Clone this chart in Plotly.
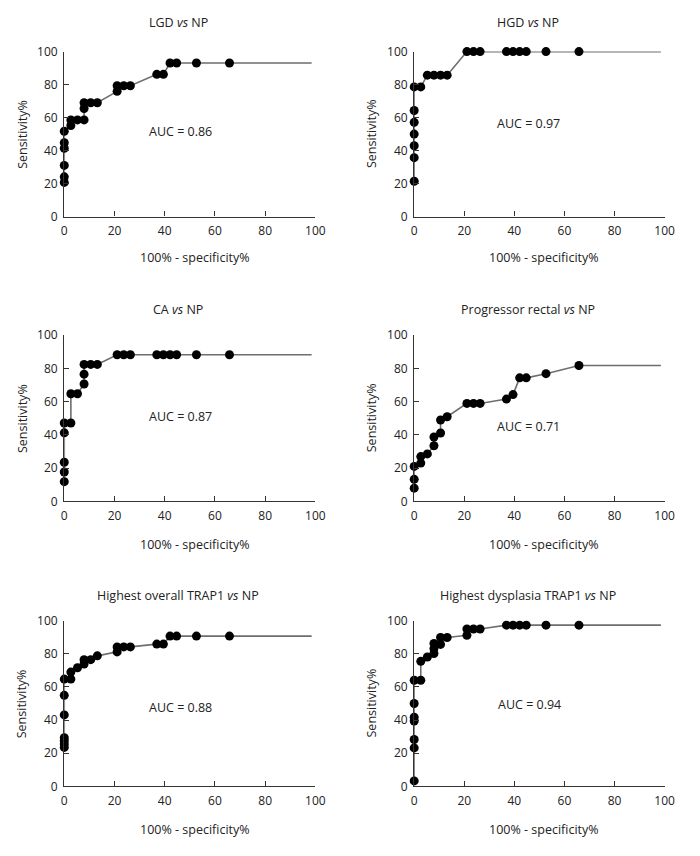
import plotly.graph_objects as go

# ---- data ----
titles = ["LGD <i>vs</i> NP", "HGD <i>vs</i> NP", "CA <i>vs</i> NP",
          "Progressor rectal <i>vs</i> NP", "Highest overall TRAP1 <i>vs</i> NP",
          "Highest dysplasia TRAP1 <i>vs</i> NP"]
auc_labels = ["AUC = 0.86", "AUC = 0.97", "AUC = 0.87", "AUC = 0.71", "AUC = 0.88", "AUC = 0.94"]

lgd_x = [0, 0, 0, 0, 0, 0, 2.63, 2.63, 5.26, 7.89, 7.89, 7.89, 10.53, 13.16, 21.05, 21.05, 23.68, 26.32,
         36.84, 39.47, 42.11, 44.74, 52.63, 65.79]
lgd_y = [20.7, 24.1, 31.0, 41.4, 44.8, 51.7, 55.2, 58.6, 58.6, 58.6, 65.5, 69.0, 69.0, 69.0, 75.9, 79.3, 79.3, 79.3,
         86.2, 86.2, 93.1, 93.1, 93.1, 93.1]

hgd_x = [0, 0, 0, 0, 0, 0, 0, 2.63, 5.26, 7.89, 10.53, 13.16, 21.05, 23.68, 26.32, 36.84, 39.47, 42.11, 44.74,
         52.63, 65.79]
hgd_y = [21.4, 35.7, 42.9, 50.0, 57.1, 64.3, 78.6, 78.6, 85.7, 85.7, 85.7, 85.7, 100, 100, 100, 100, 100, 100, 100,
         100, 100]

ca_x = [0, 0, 0, 0, 0, 2.63, 2.63, 5.26, 7.89, 7.89, 7.89, 10.53, 13.16, 21.05, 23.68, 26.32, 36.84, 39.47, 42.11,
        44.74, 52.63, 65.79]
ca_y = [11.8, 17.6, 23.5, 41.2, 47.1, 47.1, 64.7, 64.7, 70.6, 76.5, 82.4, 82.4, 82.4, 88.2, 88.2, 88.2, 88.2, 88.2,
        88.2, 88.2, 88.2, 88.2]

prog_x = [0, 0, 0, 2.63, 2.63, 5.26, 7.89, 7.89, 10.53, 10.53, 13.16, 21.05, 23.68, 26.32, 36.84, 39.47, 42.11,
          44.74, 52.63, 65.79]
prog_y = [7.9, 13.2, 21.0, 23.0, 26.9, 28.5, 33.4, 38.7, 41.1, 48.9, 50.9, 58.9, 58.9, 58.9, 61.5, 64.2, 74.3,
          74.3, 76.8, 81.7]

overall_x = [0, 0, 0, 0, 0, 0, 0, 2.63, 2.63, 5.26, 7.89, 7.89, 10.53, 13.16, 21.05, 21.05, 23.68, 26.32, 36.84,
             39.47, 42.11, 44.74, 52.63, 65.79]
overall_y = [23.5, 25.5, 27.5, 29.4, 43.1, 54.9, 64.7, 64.7, 68.9, 71.5, 73.8, 76.4, 76.4, 78.7, 81.1, 84.1, 84.1,
             84.1, 85.8, 85.8, 90.6, 90.6, 90.6, 90.6]

dysp_x = [0, 0, 0, 0, 0, 0, 0, 2.63, 2.63, 5.26, 7.89, 7.89, 7.89, 10.53, 10.53, 13.16, 21.05, 21.05, 23.68, 26.32,
          36.84, 39.47, 42.11, 44.74, 52.63, 65.79]
dysp_y = [3.3, 23.2, 28.3, 39.4, 41.7, 50.0, 64.0, 64.0, 75.4, 78.0, 80.1, 83.1, 86.2, 85.6, 89.8, 89.8, 91.1,
          94.9, 94.9, 94.9, 97.2, 97.2, 97.2, 97.2, 97.2, 97.2]

end_x = 98.5  # x where each curve's closing line stops

panels_x = [lgd_x, hgd_x, ca_x, prog_x, overall_x, dysp_x]
panels_y = [lgd_y, hgd_y, ca_y, prog_y, overall_y, dysp_y]
auc_pos = [(46.4, 51.5), (45.7, 56.4), (46.4, 50.9), (45.8, 45.0), (46.4, 47.6), (46.0, 49.6)]

tick_vals = [0, 20, 40, 60, 80, 100]
x_title = "100% - specificity%"
y_title = "Sensitivity%"

# ---- layout geometry (page pixels; the figure sits 8px in from the page corner) ----
OFF = 8
W, H = 684, 840
cols_px = [(62.3, 318.3), (419.0, 674.3)]
rows_px = [(43.3, 211.7), (332.7, 502.3), (624.0, 793.3)]
title_y_px = [14, 307, 598]
xtitle_y_px = [253, 546, 837]
ytitle_x_px = [19, 375]


def px(v):
    return (v - OFF) / W


def py(v):
    return 1 - (v - OFF) / H


FONT = "Open Sans"
FS = 12.5
FS_TICK = 12
TXT = "#222"
AX = "#333"

fig = go.Figure()
layout = dict(width=W, height=H, margin=dict(l=0, r=0, t=0, b=0),
              plot_bgcolor="white", paper_bgcolor="white", showlegend=False,
              font=dict(family=FONT, size=FS, color=TXT))
annotations = []

for i in range(6):
    r, c = divmod(i, 2)
    n = i + 1
    xa = "x" if n == 1 else f"x{n}"
    ya = "y" if n == 1 else f"y{n}"
    x0, x1 = cols_px[c]
    y0, y1 = rows_px[r]
    axis_common = dict(range=[0, 100], tickvals=tick_vals, showgrid=False, zeroline=False,
                       showline=True, linecolor=AX, linewidth=1.3, ticks="inside", ticklen=5,
                       tickcolor=AX, tickwidth=1, tickfont=dict(family=FONT, size=FS_TICK, color=TXT))
    layout["xaxis" if n == 1 else f"xaxis{n}"] = dict(axis_common, domain=[px(x0), px(x1)], anchor=ya,
                                                      ticklabelstandoff=3)
    layout["yaxis" if n == 1 else f"yaxis{n}"] = dict(axis_common, domain=[py(y1), py(y0)], anchor=xa,
                                                      ticklabelstandoff=3)

    xs, ys = panels_x[i], panels_y[i]
    fig.add_trace(go.Scatter(x=xs + [end_x], y=ys + [ys[-1]], mode="lines",
                             line=dict(color="#6e6e6e", width=1.6), xaxis=xa, yaxis=ya,
                             cliponaxis=False, hoverinfo="skip"))
    fig.add_trace(go.Scatter(x=xs, y=ys, mode="markers",
                             marker=dict(color="black", size=9), xaxis=xa, yaxis=ya,
                             cliponaxis=False))

    cx = (x0 + x1) / 2 - 12
    annotations.append(dict(text=titles[i], x=px(cx), y=py(title_y_px[r]), xref="paper", yref="paper",
                            showarrow=False, font=dict(size=FS, color=TXT), xanchor="center", yanchor="middle"))
    annotations.append(dict(text=x_title, x=px((x0 + x1) / 2 + 5), y=py(xtitle_y_px[r]),
                            xref="paper", yref="paper", showarrow=False, font=dict(size=FS, color=TXT),
                            xanchor="center", yanchor="middle"))
    annotations.append(dict(text=y_title, x=px(ytitle_x_px[c]), y=py((y0 + y1) / 2),
                            xref="paper", yref="paper", showarrow=False, textangle=-90,
                            font=dict(size=FS, color=TXT), xanchor="center", yanchor="middle"))
    ax_, ay_ = auc_pos[i]
    annotations.append(dict(text=auc_labels[i], x=ax_, y=ay_, xref=xa, yref=ya, showarrow=False,
                            font=dict(size=FS, color=TXT), xanchor="center", yanchor="middle"))

layout["annotations"] = annotations
fig.update_layout(**layout)
fig.write_html("out.html")
